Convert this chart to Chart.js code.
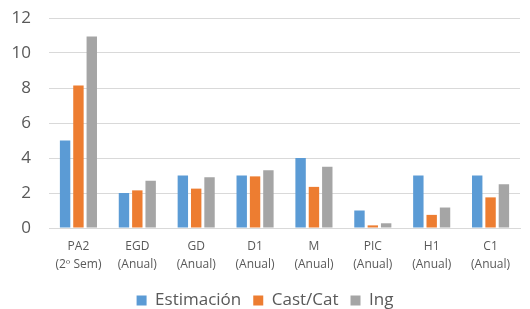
<!DOCTYPE html>
<html>
<head>
<meta charset="utf-8">
<script src="https://cdn.jsdelivr.net/npm/chart.js@4"></script>
<style>
  html, body { margin: 0; padding: 0; background: #fff; }
  #wrap { width: 530px; height: 309px; }
</style>
</head>
<body>
<div id="wrap"><canvas id="chart"></canvas></div>
<script>
const categories = [
    ['PA2', '(2º Sem)'], ['EGD', '(Anual)'], ['GD', '(Anual)'], ['D1', '(Anual)'],
    ['M', '(Anual)'], ['PIC', '(Anual)'], ['H1', '(Anual)'], ['C1', '(Anual)']
];
const estimacion = [5, 2, 3, 3, 4, 1, 3, 3];
const castCat = [8.15, 2.15, 2.25, 2.95, 2.35, 0.15, 0.75, 1.75];
const ing = [10.95, 2.7, 2.9, 3.3, 3.5, 0.27, 1.17, 2.5];
const yTicks = [0, 2, 4, 6, 8, 10, 12];

const font = "'Open Sans', 'Liberation Sans', sans-serif";

function series(label, data, color) {
    return {
        label: label,
        data: data,
        backgroundColor: color,
        borderWidth: 0,
        categoryPercentage: 0.68,
        barPercentage: 0.78
    };
}

new Chart(document.getElementById('chart'), {
    type: 'bar',
    data: {
        labels: categories,
        datasets: [
            series('Estimación', estimacion, '#5B9BD5'),
            series('Cast/Cat', castCat, '#ED7D31'),
            series('Ing', ing, '#A5A5A5')
        ]
    },
    options: {
        responsive: true,
        maintainAspectRatio: false,
        animation: false,
        layout: { padding: { left: 10, right: 10, top: 18, bottom: -10 } },
        plugins: {
            tooltip: { enabled: false },
            legend: {
                position: 'bottom',
                labels: {
                    font: { family: font, size: 17 },
                    color: '#595959',
                    boxWidth: 10,
                    boxHeight: 10,
                    padding: 12
                }
            }
        },
        scales: {
            x: {
                grid: { display: false },
                border: { color: '#D9D9D9' },
                afterFit: axis => { axis.height = 52; },
                ticks: {
                    font: { family: font, size: 12, lineHeight: 1.45 },
                    color: '#595959',
                    maxRotation: 0,
                    autoSkip: false,
                    padding: 2
                }
            },
            y: {
                min: yTicks[0],
                max: yTicks[yTicks.length - 1],
                afterBuildTicks: axis => { axis.ticks = yTicks.map(v => ({ value: v })); },
                afterFit: axis => { axis.width = 39; axis.paddingTop = 0; axis.paddingBottom = 0; },
                grid: { color: '#D9D9D9', drawTicks: false },
                border: { display: false },
                ticks: {
                    font: { family: font, size: 17 },
                    color: '#595959',
                    padding: 18
                }
            }
        }
    }
});
</script>
</body>
</html>
